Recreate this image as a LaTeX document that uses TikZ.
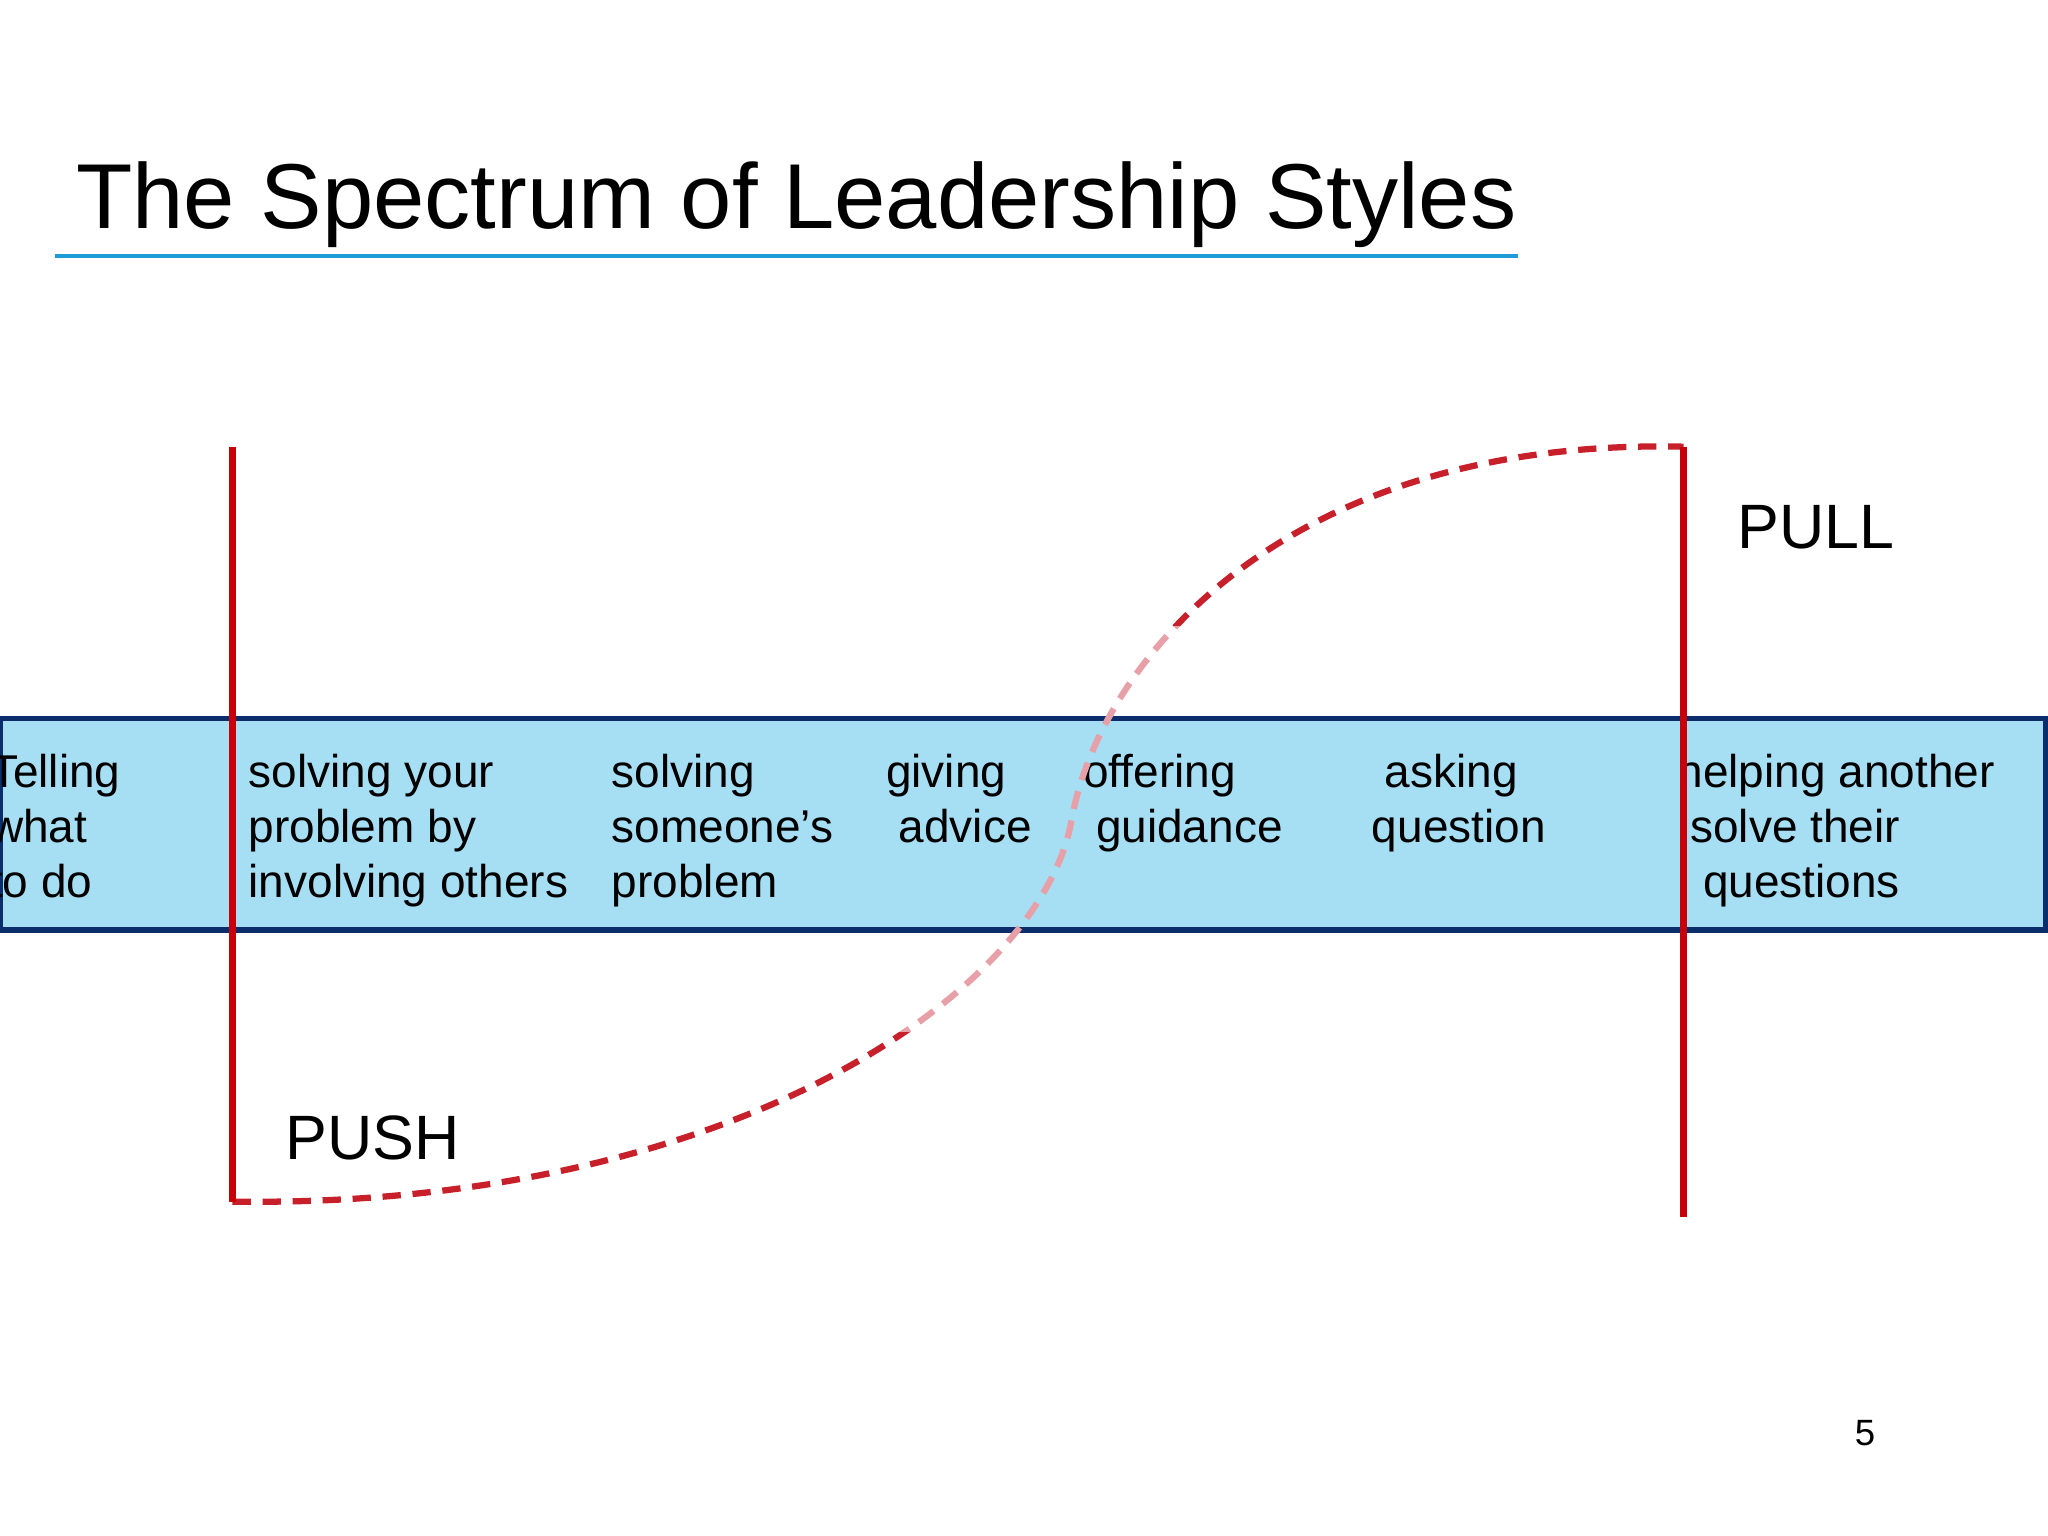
\documentclass[tikz,border=0pt]{standalone}
\usepackage{fontspec}
\setmainfont{Liberation Sans}
\definecolor{bandfill}{HTML}{A6DEF3}
\definecolor{bandline}{HTML}{0B2D6B}
\definecolor{lred}{HTML}{C8000A}
\definecolor{cred}{HTML}{C8202A}
\definecolor{pred}{HTML}{E8A0A8}
\definecolor{uline}{HTML}{1E9BD7}
\begin{document}
\begin{tikzpicture}[x=0.5pt,y=-0.5pt,
  bandtxt/.style={anchor=north west,inner sep=0pt,align=left,font=\fontsize{17.6}{21}\selectfont},
  redline/.style={draw=lred,line width=2.4pt},
  curve/.style={dash pattern=on 7pt off 4.5pt,line width=2.4pt}]
\useasboundingbox[fill=white] (0,0) rectangle (1568,1176);
\node[anchor=base west,inner sep=0pt,font=\fontsize{35.3}{40}\selectfont] (title) at (58,175) {The Spectrum of Leadership Styles};
\draw[uline,line width=1.2pt] (42,196) -- (1162,196);
\path[draw=bandline,fill=bandfill,line width=2pt] (0,550) rectangle (1566,712);
\node[bandtxt] (t1) at (-8,577) {Telling\\what\\to do};
\node[bandtxt] (t2) at (190,577) {solving your\\problem by\\involving others};
\node[bandtxt] (t3) at (468,577) {solving\\someone’s\\problem};
\node[bandtxt] (t4) at (678,577) {giving\\\ advice};
\node[bandtxt] (t5) at (829,577) {offering\\\ guidance};
\node[bandtxt] (t6) at (1050,577) {\ asking\\question};
\node[bandtxt] (t7) at (1284,577) {helping another\\\ solve their\\\ \ questions};
\coordinate (a) at (178,342);
\coordinate (b) at (178,920);
\coordinate (c) at (1289,342);
\coordinate (d) at (1289,932);
\coordinate (m) at (820,630);
\begin{scope}
\clip (0,0) rectangle (1568,480) (0,790) rectangle (1568,1176);
\draw[curve,cred] (b) .. controls (560,925) and (795,760) .. (m) .. controls (840,510) and (980,335) .. (c);
\end{scope}
\begin{scope}
\clip (0,480) rectangle (1568,790);
\draw[curve,pred] (b) .. controls (560,925) and (795,760) .. (m) .. controls (840,510) and (980,335) .. (c);
\end{scope}
\draw[redline] (a) -- (b);
\draw[redline] (c) -- (d);
\node[anchor=west,inner sep=0pt,font=\fontsize{24}{28}\selectfont] (pull) at (1330,404) {PULL};
\node[anchor=west,inner sep=0pt,font=\fontsize{24}{28}\selectfont] (push) at (218,871) {PUSH};
\node[inner sep=0pt,font=\fontsize{14}{16}\selectfont] (pg) at (1428,1097) {5};
\end{tikzpicture}
\end{document}
